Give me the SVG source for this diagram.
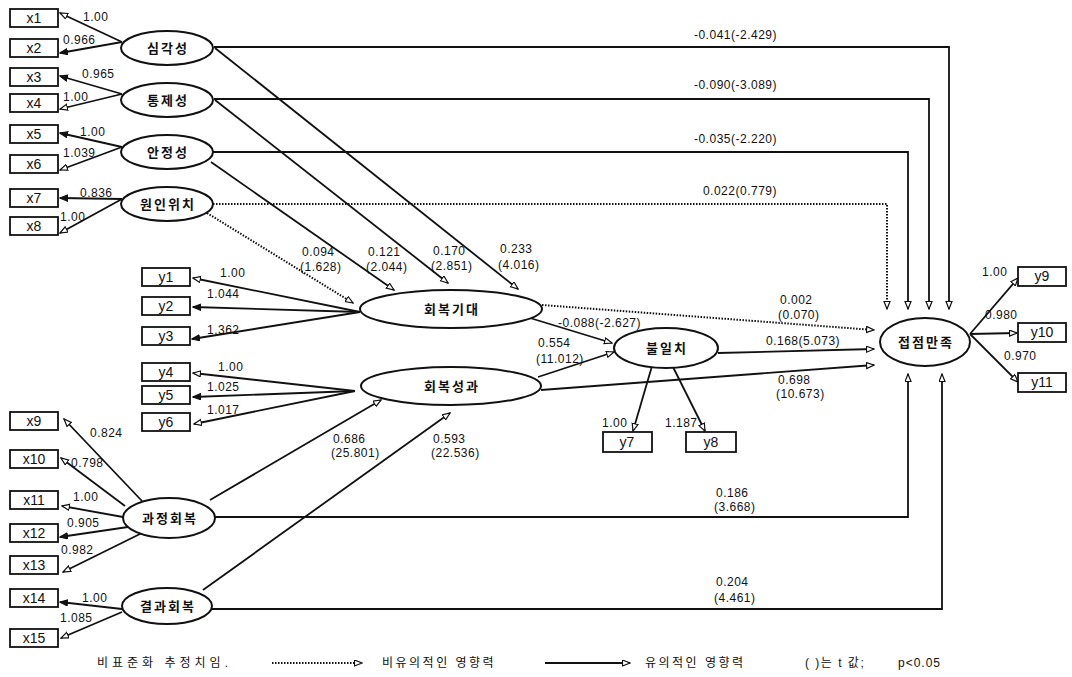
<svg xmlns="http://www.w3.org/2000/svg" width="1072" height="677" viewBox="0 0 1072 677">
<style>
.bg{fill:#fff}
.box{fill:#fff;stroke:#111;stroke-width:1.8}
.ell{fill:#fff;stroke:#111;stroke-width:2}
.bl{font-family:"Liberation Sans",Arial,sans-serif;font-size:14px;fill:#111;text-anchor:middle}
.kl{font-family:"Liberation Sans","Noto Sans CJK KR",sans-serif;font-size:13px;font-weight:bold;fill:#111;text-anchor:middle;letter-spacing:2px}
.num{font-family:"Liberation Sans",Arial,sans-serif;font-size:12px;fill:#111;letter-spacing:0.5px}
.end{text-anchor:end}
.s{fill:none;stroke:#111;stroke-width:1.8}
.d{fill:none;stroke:#111;stroke-width:2;stroke-dasharray:1.5 1.5}
.lg{font-family:"Liberation Sans","Noto Sans CJK KR",sans-serif;font-size:12px;fill:#111;letter-spacing:2.5px}
</style>
<defs>
<marker id="ao" markerWidth="9" markerHeight="8" refX="8" refY="3.5" orient="auto" markerUnits="userSpaceOnUse"><path d="M0.5,0.5 L8,3.5 L0.5,6.5 z" fill="#fff" stroke="#111" stroke-width="1.2"/></marker>
<marker id="af" markerWidth="9" markerHeight="8" refX="8" refY="3.5" orient="auto" markerUnits="userSpaceOnUse"><path d="M0.5,0.5 L8,3.5 L0.5,6.5 z" fill="#111" stroke="#111" stroke-width="1.2"/></marker>
</defs>
<rect class="bg" x="0" y="0" width="1072" height="677"/>

<g id="connectors">
<line class="s" x1="122" y1="42" x2="60" y2="13" marker-end="url(#ao)"/>
<line class="s" x1="122" y1="42" x2="60" y2="53" marker-end="url(#af)"/>
<line class="s" x1="122" y1="94" x2="60" y2="76" marker-end="url(#af)"/>
<line class="s" x1="122" y1="94" x2="60" y2="109" marker-end="url(#ao)"/>
<line class="s" x1="122" y1="147" x2="60" y2="133" marker-end="url(#af)"/>
<line class="s" x1="122" y1="147" x2="60" y2="170" marker-end="url(#ao)"/>
<line class="s" x1="122" y1="199" x2="60" y2="198" marker-end="url(#af)"/>
<line class="s" x1="122" y1="199" x2="60" y2="233" marker-end="url(#ao)"/>
<line class="s" x1="142" y1="501" x2="64" y2="419" marker-end="url(#ao)"/>
<line class="s" x1="125" y1="506" x2="61" y2="458" marker-end="url(#ao)"/>
<line class="s" x1="123" y1="517" x2="62" y2="506" marker-end="url(#ao)"/>
<line class="s" x1="128" y1="527" x2="60" y2="537" marker-end="url(#af)"/>
<line class="s" x1="142" y1="533" x2="63" y2="572" marker-end="url(#ao)"/>
<line class="s" x1="122" y1="609" x2="60" y2="602" marker-end="url(#af)"/>
<line class="s" x1="122" y1="612" x2="61" y2="638" marker-end="url(#ao)"/>
<line class="s" x1="360" y1="312" x2="193" y2="278" marker-end="url(#ao)"/>
<line class="s" x1="360" y1="312" x2="193" y2="307" marker-end="url(#af)"/>
<line class="s" x1="360" y1="312" x2="192" y2="339" marker-end="url(#af)"/>
<line class="s" x1="355" y1="391" x2="193" y2="373" marker-end="url(#ao)"/>
<line class="s" x1="355" y1="391" x2="193" y2="397" marker-end="url(#af)"/>
<line class="s" x1="355" y1="391" x2="194" y2="424" marker-end="url(#ao)"/>
<line class="d" x1="207" y1="213" x2="353" y2="303" marker-end="url(#ao)"/>
<line class="s" x1="211" y1="162" x2="394" y2="290" marker-end="url(#ao)"/>
<line class="s" x1="215" y1="100" x2="448" y2="283" marker-end="url(#ao)"/>
<line class="s" x1="215" y1="48" x2="518" y2="289" marker-end="url(#ao)"/>
<path class="s" d="M214,47 H949 V309" marker-end="url(#ao)"/>
<path class="s" d="M214,99 H929 V309" marker-end="url(#ao)"/>
<path class="s" d="M213,152 H908 V309" marker-end="url(#ao)"/>
<path class="d" d="M213,204 H887 V309" marker-end="url(#ao)"/>
<path class="s" d="M215,517 H908 V374" marker-end="url(#ao)"/>
<path class="s" d="M212,609 H942 V374" marker-end="url(#ao)"/>
<line class="s" x1="210" y1="500" x2="381" y2="400" marker-end="url(#ao)"/>
<line class="s" x1="203" y1="590" x2="450" y2="413" marker-end="url(#ao)"/>
<line class="s" x1="530" y1="318" x2="612" y2="343" marker-end="url(#ao)"/>
<line class="s" x1="538" y1="377" x2="614" y2="352" marker-end="url(#ao)"/>
<line class="d" x1="542" y1="305" x2="874" y2="330" marker-end="url(#ao)"/>
<line class="s" x1="718" y1="353" x2="874" y2="349" marker-end="url(#ao)"/>
<line class="s" x1="541" y1="390" x2="874" y2="365" marker-end="url(#ao)"/>
<line class="s" x1="652" y1="366" x2="633" y2="431" marker-end="url(#ao)"/>
<line class="s" x1="673" y1="367" x2="705" y2="431" marker-end="url(#ao)"/>
<line class="s" x1="970" y1="334" x2="1018" y2="278" marker-end="url(#ao)"/>
<line class="s" x1="970" y1="334" x2="1017" y2="333" marker-end="url(#ao)"/>
<line class="s" x1="970" y1="334" x2="1018" y2="382" marker-end="url(#ao)"/>
</g>

<g id="edge-labels">
<text class="num" x="83" y="21">1.00</text>
<text class="num" x="63" y="44">0.966</text>
<text class="num" x="82" y="78">0.965</text>
<text class="num" x="63" y="101">1.00</text>
<text class="num" x="80" y="136">1.00</text>
<text class="num" x="63" y="157">1.039</text>
<text class="num" x="80" y="197">0.836</text>
<text class="num" x="60" y="221">1.00</text>
<text class="num" x="90" y="437">0.824</text>
<text class="num" x="71" y="467">0.798</text>
<text class="num" x="73" y="501">1.00</text>
<text class="num" x="67" y="527">0.905</text>
<text class="num" x="61" y="554">0.982</text>
<text class="num" x="82" y="602">1.00</text>
<text class="num" x="60" y="622">1.085</text>
<text class="num" x="220" y="277">1.00</text>
<text class="num" x="207" y="298">1.044</text>
<text class="num" x="207" y="334">1.362</text>
<text class="num" x="218" y="371">1.00</text>
<text class="num" x="207" y="391">1.025</text>
<text class="num" x="207" y="414">1.017</text>
<text class="num" x="302" y="256">0.094</text>
<text class="num" x="300" y="271">(1.628)</text>
<text class="num" x="368" y="256">0.121</text>
<text class="num" x="366" y="271">(2.044)</text>
<text class="num" x="433" y="255">0.170</text>
<text class="num" x="431" y="270">(2.851)</text>
<text class="num" x="500" y="253">0.233</text>
<text class="num" x="498" y="269">(4.016)</text>
<text class="num end" x="777" y="39">-0.041(-2.429)</text>
<text class="num end" x="777" y="89">-0.090(-3.089)</text>
<text class="num end" x="777" y="143">-0.035(-2.220)</text>
<text class="num end" x="777" y="195">0.022(0.779)</text>
<text class="num" x="558" y="327">-0.088(-2.627)</text>
<text class="num" x="538" y="347">0.554</text>
<text class="num" x="536" y="363">(11.012)</text>
<text class="num" x="780" y="304">0.002</text>
<text class="num" x="778" y="319">(0.070)</text>
<text class="num" x="766" y="345">0.168(5.073)</text>
<text class="num" x="778" y="384">0.698</text>
<text class="num" x="776" y="398">(10.673)</text>
<text class="num" x="333" y="443">0.686</text>
<text class="num" x="331" y="457">(25.801)</text>
<text class="num" x="433" y="443">0.593</text>
<text class="num" x="431" y="457">(22.536)</text>
<text class="num" x="716" y="497">0.186</text>
<text class="num" x="714" y="511">(3.668)</text>
<text class="num" x="716" y="586">0.204</text>
<text class="num" x="714" y="602">(4.461)</text>
<text class="num" x="602" y="427">1.00</text>
<text class="num" x="665" y="427">1.187</text>
<text class="num" x="982" y="276">1.00</text>
<text class="num" x="985" y="319">0.980</text>
<text class="num" x="1004" y="360">0.970</text>
</g>

<g id="n-x1"><rect class="box" x="10" y="9" width="48" height="18"/><text class="bl" x="34" y="23">x1</text></g>
<g id="n-x2"><rect class="box" x="10" y="39" width="48" height="18"/><text class="bl" x="34" y="53">x2</text></g>
<g id="n-x3"><rect class="box" x="10" y="68" width="48" height="18"/><text class="bl" x="34" y="82">x3</text></g>
<g id="n-x4"><rect class="box" x="10" y="94" width="48" height="18"/><text class="bl" x="34" y="108">x4</text></g>
<g id="n-x5"><rect class="box" x="10" y="125" width="48" height="18"/><text class="bl" x="34" y="139">x5</text></g>
<g id="n-x6"><rect class="box" x="10" y="155" width="48" height="18"/><text class="bl" x="34" y="169">x6</text></g>
<g id="n-x7"><rect class="box" x="10" y="189" width="48" height="18"/><text class="bl" x="34" y="203">x7</text></g>
<g id="n-x8"><rect class="box" x="10" y="217" width="48" height="18"/><text class="bl" x="34" y="231">x8</text></g>
<g id="n-x9"><rect class="box" x="10" y="412" width="48" height="18"/><text class="bl" x="34" y="426">x9</text></g>
<g id="n-x10"><rect class="box" x="10" y="450" width="48" height="18"/><text class="bl" x="34" y="464">x10</text></g>
<g id="n-x11"><rect class="box" x="10" y="491" width="48" height="18"/><text class="bl" x="34" y="505">x11</text></g>
<g id="n-x12"><rect class="box" x="10" y="524" width="48" height="18"/><text class="bl" x="34" y="538">x12</text></g>
<g id="n-x13"><rect class="box" x="10" y="556" width="48" height="18"/><text class="bl" x="34" y="570">x13</text></g>
<g id="n-x14"><rect class="box" x="10" y="589" width="48" height="18"/><text class="bl" x="34" y="603">x14</text></g>
<g id="n-x15"><rect class="box" x="10" y="629" width="48" height="18"/><text class="bl" x="34" y="643">x15</text></g>
<g id="n-y1"><rect class="box" x="142" y="268" width="48" height="18"/><text class="bl" x="166" y="282">y1</text></g>
<g id="n-y2"><rect class="box" x="142" y="297" width="48" height="18"/><text class="bl" x="166" y="311">y2</text></g>
<g id="n-y3"><rect class="box" x="142" y="327" width="48" height="18"/><text class="bl" x="166" y="341">y3</text></g>
<g id="n-y4"><rect class="box" x="142" y="363" width="48" height="18"/><text class="bl" x="166" y="377">y4</text></g>
<g id="n-y5"><rect class="box" x="142" y="386" width="48" height="18"/><text class="bl" x="166" y="400">y5</text></g>
<g id="n-y6"><rect class="box" x="142" y="413" width="48" height="18"/><text class="bl" x="166" y="427">y6</text></g>
<g id="n-y7"><rect class="box" x="603" y="432" width="49" height="20"/><text class="bl" x="627" y="447">y7</text></g>
<g id="n-y8"><rect class="box" x="686" y="432" width="50" height="20"/><text class="bl" x="711" y="447">y8</text></g>
<g id="n-y9"><rect class="box" x="1018" y="267" width="48" height="19"/><text class="bl" x="1042" y="281">y9</text></g>
<g id="n-y10"><rect class="box" x="1018" y="323" width="48" height="19"/><text class="bl" x="1042" y="337">y10</text></g>
<g id="n-y11"><rect class="box" x="1018" y="373" width="48" height="19"/><text class="bl" x="1042" y="387">y11</text></g>

<g id="n-severity"><ellipse class="ell" cx="167" cy="48" rx="46" ry="17"/><text class="kl" x="168" y="53">심각성</text></g>
<g id="n-control"><ellipse class="ell" cx="167" cy="100" rx="46" ry="17"/><text class="kl" x="168" y="105">통제성</text></g>
<g id="n-stability"><ellipse class="ell" cx="167" cy="152" rx="46" ry="17"/><text class="kl" x="168" y="157">안정성</text></g>
<g id="n-locus"><ellipse class="ell" cx="167" cy="204" rx="46" ry="17"/><text class="kl" x="168" y="209">원인위치</text></g>
<g id="n-expect"><ellipse class="ell" cx="451" cy="309" rx="91" ry="19"/><text class="kl" x="452" y="314">회복기대</text></g>
<g id="n-perform"><ellipse class="ell" cx="451" cy="386" rx="90" ry="19"/><text class="kl" x="452" y="391">회복성과</text></g>
<g id="n-disconf"><ellipse class="ell" cx="666" cy="348" rx="52" ry="20"/><text class="kl" x="667" y="353">불일치</text></g>
<g id="n-satis"><ellipse class="ell" cx="925" cy="342" rx="45" ry="24"/><text class="kl" x="926" y="347">접점만족</text></g>
<g id="n-process"><ellipse class="ell" cx="169" cy="518" rx="46" ry="20"/><text class="kl" x="170" y="523">과정회복</text></g>
<g id="n-outcome"><ellipse class="ell" cx="167" cy="606" rx="45" ry="18"/><text class="kl" x="168" y="611">결과회복</text></g>

<g id="legend">
<text class="lg" x="97" y="667" style="letter-spacing:4px">비표준화 추정치임.</text>
<line class="d" x1="272" y1="663" x2="362" y2="663" marker-end="url(#ao)"/>
<text class="lg" x="382" y="667">비유의적인 영향력</text>
<line class="s" x1="545" y1="663" x2="630" y2="663" stroke-width="2.4" marker-end="url(#ao)"/>
<text class="lg" x="645" y="667">유의적인 영향력</text>
<text class="lg" x="805" y="667" style="letter-spacing:1.5px">( )는 t 값;</text>
<text class="lg" x="898" y="667" style="letter-spacing:1px">p&lt;0.05</text>
</g>
</svg>
